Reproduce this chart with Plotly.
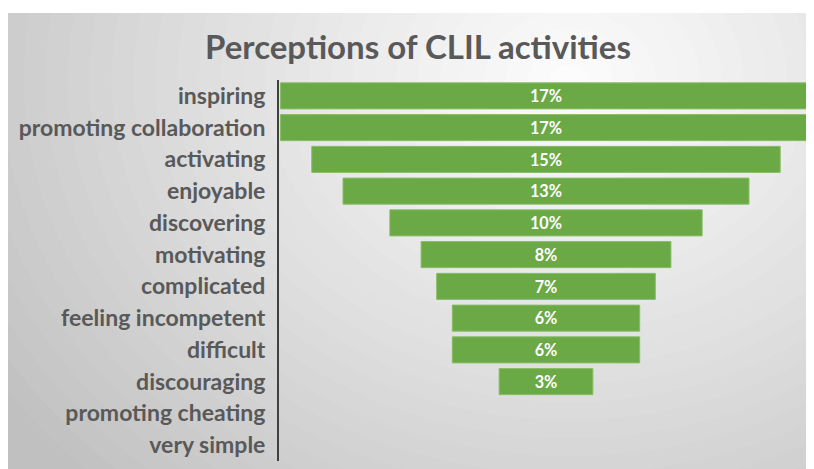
import plotly.graph_objects as go

categories = ["inspiring", "promoting collaboration", "activating", "enjoyable",
              "discovering", "motivating", "complicated", "feeling incompetent",
              "difficult", "discouraging", "promoting cheating", "very simple"]
values = [17, 17, 15, 13, 10, 8, 7, 6, 6, 3, 0, 0]
labels = [f"{v}%" if v > 0 else "" for v in values]

# the page body adds an 8px margin; the figure is sized to fill the rest of the window
OFF = 8
W, H = 814 - OFF, 469 - OFF
L, R, T, B = 279 - OFF, 1, 80 - OFF, 8
PW, PH = W - L - R, H - T - B


def px(x):  # x in screenshot pixels -> paper
    return (x - OFF - L) / PW


def py(y):  # y in screenshot pixels -> paper
    return 1 - (y - OFF - T) / PH


fig = go.Figure()
fig.add_trace(go.Funnel(
    y=categories, x=values, text=labels, texttemplate="%{text}",
    textposition="inside", insidetextanchor="middle",
    textfont=dict(family="Lato", size=17, color="white", weight="bold"),
    marker=dict(color="#6aa945",
                line=dict(color="#86bd62", width=[1 if v > 0 else 0 for v in values])),
    connector=dict(visible=False), width=0.82, hoverinfo="y+x",
))

# background: radial-ish gradient made of stacked ellipses
shapes = []
shapes.append(dict(type="rect", xref="paper", yref="paper", x0=px(0), x1=px(830),
                   y0=py(490), y1=py(13),
                   fillcolor="#c0c0c0", line=dict(width=0), layer="below"))
cx, cy = 570, 80
n = 32
for i in range(n):
    f = i / (n - 1)
    rx = 680 * (1 - f) + 20
    ry = 560 * (1 - f) + 15
    g = int(192 + (252 - 192) * f ** 0.9)
    col = f"rgb({g},{g},{g})"
    shapes.append(dict(type="circle", xref="paper", yref="paper",
                       x0=px(cx - rx), x1=px(cx + rx), y0=py(cy + ry), y1=py(cy - ry),
                       fillcolor=col, line=dict(width=0), layer="below"))
# white band above the chart box
shapes.append(dict(type="rect", xref="paper", yref="paper", x0=px(-50), x1=px(900),
                   y0=py(13), y1=py(-200),
                   fillcolor="white", line=dict(width=0), layer="below"))

fig.update_layout(
    width=W, height=H,
    margin=dict(l=L, r=R, t=T, b=B),
    paper_bgcolor="white", plot_bgcolor="rgba(0,0,0,0)",
    shapes=shapes,
    title=dict(text="Perceptions of CLIL activities", x=(418 - OFF) / W, xanchor="center",
               y=1 - (47 - OFF) / H, yanchor="middle", yref="container",
               font=dict(family="Lato", size=33, color="#595959", weight="bold")),
    showlegend=False,
)
fig.update_xaxes(visible=False, range=[-8.55, 8.55], fixedrange=True)
fig.update_yaxes(showline=True, linecolor="#404040", linewidth=2, ticks="",
                 ticklabelstandoff=7, showgrid=False, automargin=False,
                 tickfont=dict(family="Lato", size=23, color="#595959", weight="bold"))

fig.write_html("out.html", default_width=f"{W}px", default_height=f"{H}px")
